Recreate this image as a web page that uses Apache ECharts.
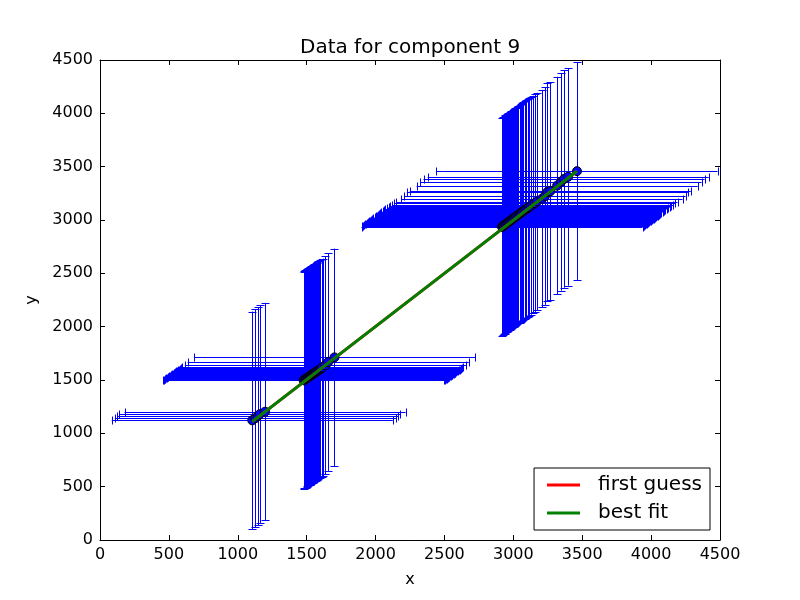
<!DOCTYPE html>
<html>
<head>
<meta charset="utf-8">
<script src="https://cdn.jsdelivr.net/npm/echarts@6/dist/echarts.min.js"></script>
<style>html,body{margin:0;padding:0;background:#fff}#c{width:800px;height:600px}</style>
</head>
<body>
<div id="c"></div>
<script>
// Measured points (x, y) for component 9
const xValues = [
  1105, 1128, 1145, 1160, 1198,
  1478, 1484, 1490, 1495, 1500, 1506, 1511, 1516, 1522, 1527, 1532, 1538, 1543, 1549, 1554,
  1560, 1566, 1572, 1578, 1585, 1592, 1600, 1608, 1615, 1636, 1656, 1702,
  2918, 2924, 2930, 2937, 2943, 2950, 2957, 2963, 2970, 2977, 2984, 2991, 2998, 3005, 3013,
  3021, 3029, 3037, 3045, 3054, 3063, 3072, 3082, 3092, 3103, 3114, 3126, 3140, 3155, 3172,
  3208, 3230, 3247, 3268, 3318, 3346, 3368, 3398, 3462
];
const yValues = [
  1122, 1142, 1160, 1180, 1203,
  1497, 1503, 1508, 1512, 1517, 1522, 1526, 1531, 1536, 1540, 1545, 1550, 1555, 1560, 1564,
  1569, 1574, 1580, 1585, 1591, 1597, 1604, 1611, 1618, 1638, 1668, 1712,
  2935, 2942, 2948, 2954, 2960, 2967, 2973, 2980, 2986, 2993, 2999, 3006, 3013, 3020, 3027,
  3034, 3042, 3050, 3058, 3066, 3074, 3083, 3092, 3101, 3111, 3121, 3132, 3145, 3158, 3173,
  3200, 3225, 3262, 3270, 3322, 3358, 3385, 3405, 3458
];
const xError = 1020;
const yError = 1020;
// Fit lines (end points)
const firstGuessX = [1105, 3462];
const firstGuessY = [1110, 3458];
const bestFitX = [1105, 3462];
const bestFitY = [1110, 3458];
const axisMin = 0, axisMax = 4500, axisStep = 500;

const points = xValues.map((x, i) => [x, yValues[i]]);
const firstGuess = firstGuessX.map((x, i) => [x, firstGuessY[i]]);
const bestFit = bestFitX.map((x, i) => [x, bestFitY[i]]);

const FONT = 'DejaVu Sans';
const px = v => Math.round(v) + 0.5;

function errRender(params, api) {
  const x = api.value(0), y = api.value(1);
  const l = api.coord([x - xError, y]);
  const r = api.coord([x + xError, y]);
  const t = api.coord([x, y + yError]);
  const b = api.coord([x, y - yError]);
  const cap = 4;
  const st = { stroke: '#0000ff', lineWidth: 1 };
  const hy = px(l[1]), vx = px(t[0]);
  return {
    type: 'group',
    children: [
      { type: 'line', shape: { x1: l[0], y1: hy, x2: r[0], y2: hy }, style: st },
      { type: 'line', shape: { x1: vx, y1: t[1], x2: vx, y2: b[1] }, style: st },
      { type: 'line', shape: { x1: px(l[0]), y1: hy - cap, x2: px(l[0]), y2: hy + cap }, style: st },
      { type: 'line', shape: { x1: px(r[0]), y1: hy - cap, x2: px(r[0]), y2: hy + cap }, style: st },
      { type: 'line', shape: { x1: vx - cap, y1: px(t[1]), x2: vx + cap, y2: px(t[1]) }, style: st },
      { type: 'line', shape: { x1: vx - cap, y1: px(b[1]), x2: vx + cap, y2: px(b[1]) }, style: st }
    ]
  };
}

const baseAxis = {
  min: axisMin, max: axisMax, interval: axisStep,
  axisLine: { show: true, onZero: false, lineStyle: { color: '#000', width: 1 } },
  axisTick: { show: true, inside: true, length: 5, lineStyle: { color: '#000' } },
  splitLine: { show: false }
};
const labelStyle = { color: '#000', fontFamily: FONT, fontSize: 16, formatter: v => String(v) };

const chart = echarts.init(document.getElementById('c'), null, { renderer: 'canvas' });
chart.setOption({
  animation: false,
  backgroundColor: '#fff',
  title: {
    text: 'Data for component 9', left: 300, top: 38, padding: 0,
    textStyle: { color: '#000', fontFamily: FONT, fontSize: 20, fontWeight: 'normal' }
  },
  grid: { left: 100, right: 80, top: 60, bottom: 60 },
  xAxis: [
    Object.assign({}, baseAxis, {
      type: 'value', position: 'bottom', name: 'x', nameLocation: 'middle', nameGap: 32,
      nameTextStyle: { color: '#000', fontFamily: FONT, fontSize: 16 },
      axisLabel: Object.assign({ margin: 7 }, labelStyle)
    }),
    Object.assign({}, baseAxis, { type: 'value', position: 'top', axisLabel: { show: false } })
  ],
  yAxis: [
    Object.assign({}, baseAxis, {
      type: 'value', position: 'left', name: 'y', nameLocation: 'middle', nameGap: 60,
      nameTextStyle: { color: '#000', fontFamily: FONT, fontSize: 16 },
      axisLabel: Object.assign({ margin: 7 }, labelStyle)
    }),
    Object.assign({}, baseAxis, { type: 'value', position: 'right', axisLabel: { show: false } })
  ],
  legend: {
    orient: 'vertical', right: 90, bottom: 70,
    backgroundColor: '#fff', borderColor: '#000', borderWidth: 1, borderRadius: 0,
    padding: [7, 8, 7, 13], itemGap: 8, itemWidth: 33, itemHeight: 3, icon: 'rect',
    textStyle: { color: '#000', fontFamily: FONT, fontSize: 20, padding: [0, 0, 0, 13] },
    data: ['first guess', 'best fit']
  },
  series: [
    {
      type: 'custom', name: 'errors', renderItem: errRender, data: points,
      encode: { x: 0, y: 1 }, z: 1, silent: true
    },
    {
      type: 'scatter', name: 'data', data: points, symbol: 'circle', symbolSize: 9, z: 2,
      itemStyle: { color: '#0000ff', borderColor: '#000', borderWidth: 1, opacity: 1 }
    },
    {
      type: 'line', name: 'first guess', data: firstGuess, showSymbol: false, z: 3,
      itemStyle: { color: '#ff0000' }, lineStyle: { color: '#ff0000', width: 3 }
    },
    {
      type: 'line', name: 'best fit', data: bestFit, showSymbol: false, z: 4,
      itemStyle: { color: '#008000' }, lineStyle: { color: '#008000', width: 3 }
    }
  ]
});
</script>
</body>
</html>
